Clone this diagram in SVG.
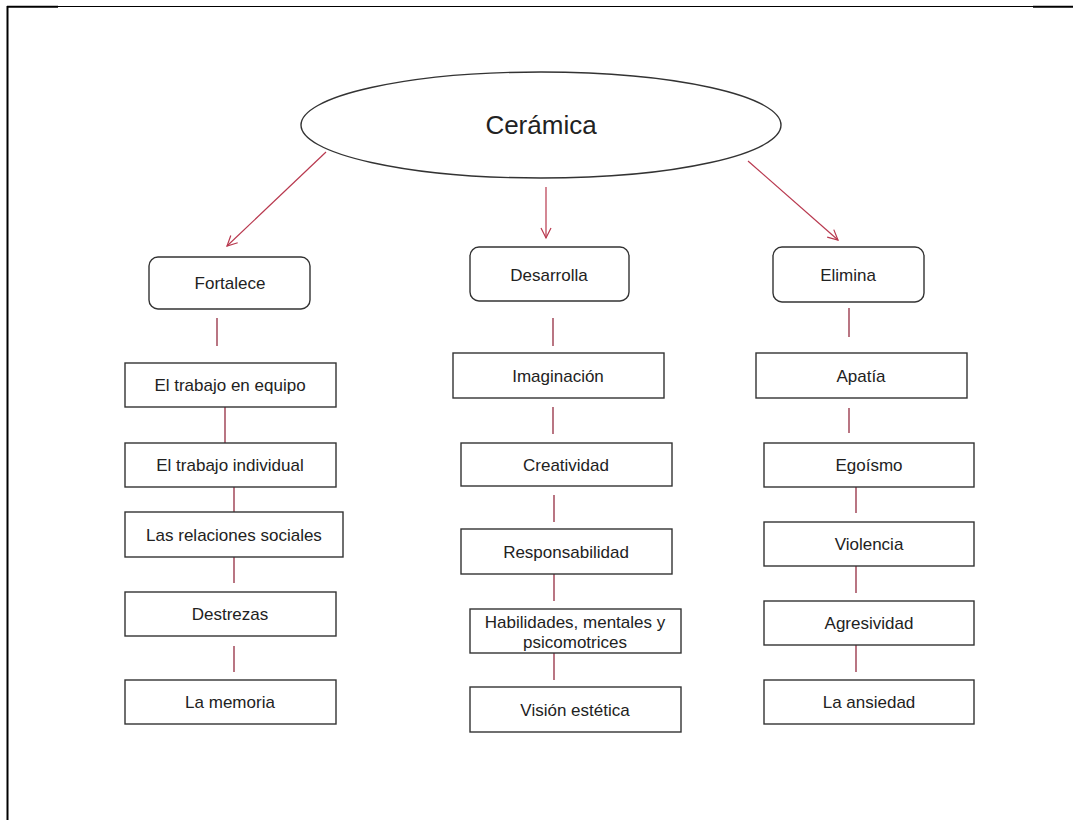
<svg xmlns="http://www.w3.org/2000/svg" width="1073" height="820" viewBox="0 0 1073 820">
<defs>
<style>
.box{fill:#fff;stroke:#333;stroke-width:1.4}
.t{font-family:"Liberation Sans",Arial,sans-serif;font-size:17px;fill:#222;text-anchor:middle}
.arr{stroke:#b8384e;stroke-width:1.2;fill:none}
.con{stroke:#8a1a30;stroke-width:1.2;fill:none}
</style>
<marker id="ah" markerWidth="14" markerHeight="14" refX="11" refY="6" orient="auto" markerUnits="userSpaceOnUse">
<path d="M1,1 L11,6 L1,11" fill="none" stroke="#b8384e" stroke-width="1.2"/>
</marker>
</defs>
<rect width="1073" height="820" fill="#fff"/>
<g id="border" stroke="#000" fill="none">
<line x1="7.5" y1="6" x2="7.5" y2="820" stroke-width="2"/>
<line x1="7" y1="6.5" x2="1073" y2="6.5" stroke-width="1"/>
<line x1="7" y1="6.8" x2="58" y2="6.8" stroke-width="2"/>
<line x1="1033" y1="6.8" x2="1073" y2="6.8" stroke-width="2"/>
</g>
<g id="connectors">
<line class="arr" x1="326" y1="152" x2="227" y2="246" marker-end="url(#ah)"/>
<line class="arr" x1="546" y1="187" x2="546" y2="238" marker-end="url(#ah)"/>
<line class="arr" x1="748" y1="161" x2="838" y2="240" marker-end="url(#ah)"/>
<line class="con" x1="217" y1="318" x2="217" y2="346"/>
<line class="con" x1="225" y1="407" x2="225" y2="443"/>
<line class="con" x1="234" y1="487" x2="234" y2="512"/>
<line class="con" x1="234" y1="557" x2="234" y2="583"/>
<line class="con" x1="234" y1="646" x2="234" y2="672"/>
<line class="con" x1="553" y1="318" x2="553" y2="346"/>
<line class="con" x1="553" y1="407" x2="553" y2="434"/>
<line class="con" x1="554" y1="495" x2="554" y2="522"/>
<line class="con" x1="554" y1="574" x2="554" y2="601"/>
<line class="con" x1="554" y1="653" x2="554" y2="680"/>
<line class="con" x1="849" y1="308" x2="849" y2="337"/>
<line class="con" x1="849" y1="408" x2="849" y2="433"/>
<line class="con" x1="856" y1="487" x2="856" y2="513"/>
<line class="con" x1="856" y1="566" x2="856" y2="593"/>
<line class="con" x1="856" y1="645" x2="856" y2="672"/>
</g>
<g id="ceramica">
<ellipse cx="541" cy="125" rx="240" ry="53" class="box"/>
<text x="541" y="134" class="t" style="font-size:26px">Cerámica</text>
</g>
<g id="fortalece">
<rect x="149" y="257" width="161" height="52" rx="9" class="box"/>
<text x="230" y="289" class="t">Fortalece</text>
</g>
<g id="desarrolla">
<rect x="470" y="247" width="159" height="54" rx="9" class="box"/>
<text x="549" y="281" class="t">Desarrolla</text>
</g>
<g id="elimina">
<rect x="773" y="247" width="151" height="55" rx="9" class="box"/>
<text x="848" y="281" class="t">Elimina</text>
</g>
<g id="equipo">
<rect x="125" y="363" width="211" height="44" class="box"/>
<text x="230" y="391" class="t">El trabajo en equipo</text>
</g>
<g id="individual">
<rect x="125" y="443" width="211" height="44" class="box"/>
<text x="230" y="471" class="t">El trabajo individual</text>
</g>
<g id="relaciones">
<rect x="125" y="512" width="218" height="45" class="box"/>
<text x="234" y="541" class="t">Las relaciones sociales</text>
</g>
<g id="destrezas">
<rect x="125" y="592" width="211" height="44" class="box"/>
<text x="230" y="620" class="t">Destrezas</text>
</g>
<g id="memoria">
<rect x="125" y="680" width="211" height="44" class="box"/>
<text x="230" y="708" class="t">La memoria</text>
</g>
<g id="imaginacion">
<rect x="453" y="353" width="211" height="45" class="box"/>
<text x="558" y="382" class="t">Imaginación</text>
</g>
<g id="creatividad">
<rect x="461" y="443" width="211" height="43" class="box"/>
<text x="566" y="471" class="t">Creatividad</text>
</g>
<g id="responsabilidad">
<rect x="461" y="529" width="211" height="45" class="box"/>
<text x="566" y="558" class="t">Responsabilidad</text>
</g>
<g id="habilidades">
<rect x="470" y="609" width="211" height="44" class="box"/>
<text x="575" y="628" class="t">Habilidades, mentales y</text>
<text x="575" y="648" class="t">psicomotrices</text>
</g>
<g id="vision">
<rect x="470" y="687" width="211" height="45" class="box"/>
<text x="575" y="716" class="t">Visión estética</text>
</g>
<g id="apatia">
<rect x="756" y="353" width="211" height="45" class="box"/>
<text x="861" y="382" class="t">Apatía</text>
</g>
<g id="egoismo">
<rect x="764" y="443" width="210" height="44" class="box"/>
<text x="869" y="471" class="t">Egoísmo</text>
</g>
<g id="violencia">
<rect x="764" y="522" width="210" height="44" class="box"/>
<text x="869" y="550" class="t">Violencia</text>
</g>
<g id="agresividad">
<rect x="764" y="601" width="210" height="44" class="box"/>
<text x="869" y="629" class="t">Agresividad</text>
</g>
<g id="ansiedad">
<rect x="764" y="680" width="210" height="44" class="box"/>
<text x="869" y="708" class="t">La ansiedad</text>
</g>
</svg>
